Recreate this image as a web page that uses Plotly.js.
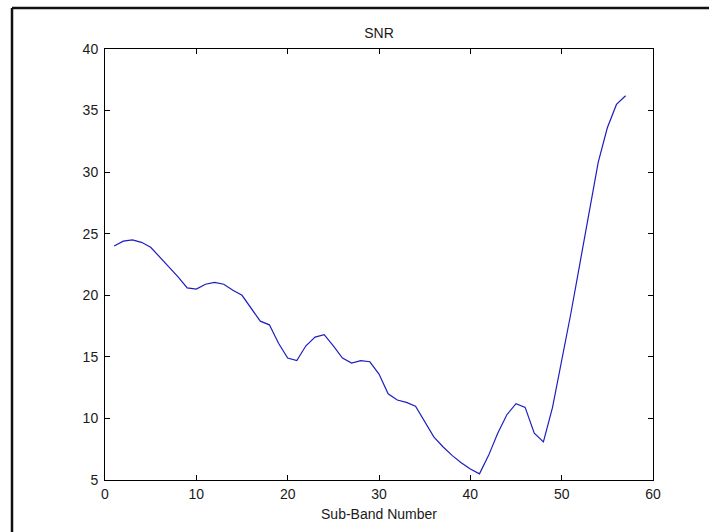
<!DOCTYPE html>
<html>
<head>
<meta charset="utf-8">
<script src="https://cdn.plot.ly/plotly-3.0.1.min.js"></script>
<style>
  html, body { margin: 0; padding: 0; background: #ffffff; }
  #chart { width: 709px; height: 532px; }
</style>
</head>
<body>
<div id="chart"></div>
<script>
// Sub-band index and the SNR measured in each sub-band
const subBands = [
  1, 2, 3, 4, 5, 6, 7, 8, 9, 10,
  11, 12, 13, 14, 15, 16, 17, 18, 19, 20,
  21, 22, 23, 24, 25, 26, 27, 28, 29, 30,
  31, 32, 33, 34, 35, 36, 37, 38, 39, 40,
  41, 42, 43, 44, 45, 46, 47, 48, 49, 50,
  51, 52, 53, 54, 55, 56, 57
];
const snr = [
  24.0, 24.4, 24.5, 24.3, 23.9, 23.1, 22.3, 21.5, 20.6, 20.5,
  20.9, 21.05, 20.9, 20.4, 20.0, 19.0, 17.9, 17.6, 16.1, 14.9,
  14.7, 15.9, 16.6, 16.8, 15.9, 14.9, 14.5, 14.7, 14.6, 13.6,
  12.0, 11.5, 11.3, 11.0, 9.7, 8.5, 7.7, 7.0, 6.4, 5.9,
  5.5, 7.0, 8.8, 10.3, 11.2, 10.9, 8.8, 8.1, 10.9, 14.6,
  18.5, 22.6, 26.8, 30.8, 33.6, 35.5, 36.2
];
const xTicks = [0, 10, 20, 30, 40, 50, 60];
const yTicks = [5, 10, 15, 20, 25, 30, 35, 40];

const font = { family: 'Liberation Sans, Arial, sans-serif', size: 14, color: '#1a1a1a' };

const trace = {
  x: subBands,
  y: snr,
  type: 'scatter',
  mode: 'lines',
  line: { color: 'rgb(30,30,190)', width: 1.2 },
  hoverinfo: 'x+y'
};

const axisCommon = {
  showgrid: false,
  zeroline: false,
  showline: true,
  linecolor: '#000000',
  linewidth: 1,
  mirror: 'ticks',
  ticks: 'inside',
  ticklen: 5,
  tickwidth: 1,
  tickcolor: '#000000',
  tickfont: font
};

const layout = {
  width: 709,
  height: 532,
  margin: { l: 105, r: 56, t: 49, b: 52 },
  paper_bgcolor: '#ffffff',
  plot_bgcolor: '#ffffff',
  showlegend: false,
  font: font,
  title: {
    text: 'SNR',
    font: font,
    x: 0.5,
    xref: 'paper',
    xanchor: 'center',
    y: 1 - 33 / 532,
    yanchor: 'middle'
  },
  xaxis: Object.assign({}, axisCommon, {
    range: [0, 60],
    tickvals: xTicks,
    ticktext: xTicks.map(String),
    ticklabelstandoff: 1,
    title: { text: 'Sub-Band Number', font: font, standoff: 8 }
  }),
  yaxis: Object.assign({}, axisCommon, {
    range: [5, 40],
    tickvals: yTicks,
    ticktext: yTicks.map(String),
    ticklabelstandoff: 3
  }),
  shapes: [
    // figure frame along the top and left edges
    {
      type: 'line', xref: 'paper', yref: 'paper',
      x0: (12 - 105) / 548, x1: (712 - 105) / 548,
      y0: (480 - 8) / 431, y1: (480 - 8) / 431,
      line: { color: '#111111', width: 2.5 }
    },
    {
      type: 'line', xref: 'paper', yref: 'paper',
      x0: (12 - 105) / 548, x1: (12 - 105) / 548,
      y0: (480 - 8) / 431, y1: (480 - 535) / 431,
      line: { color: '#111111', width: 2.5 }
    }
  ]
};

Plotly.newPlot('chart', [trace], layout, { displayModeBar: false, staticPlot: true });
</script>
</body>
</html>
